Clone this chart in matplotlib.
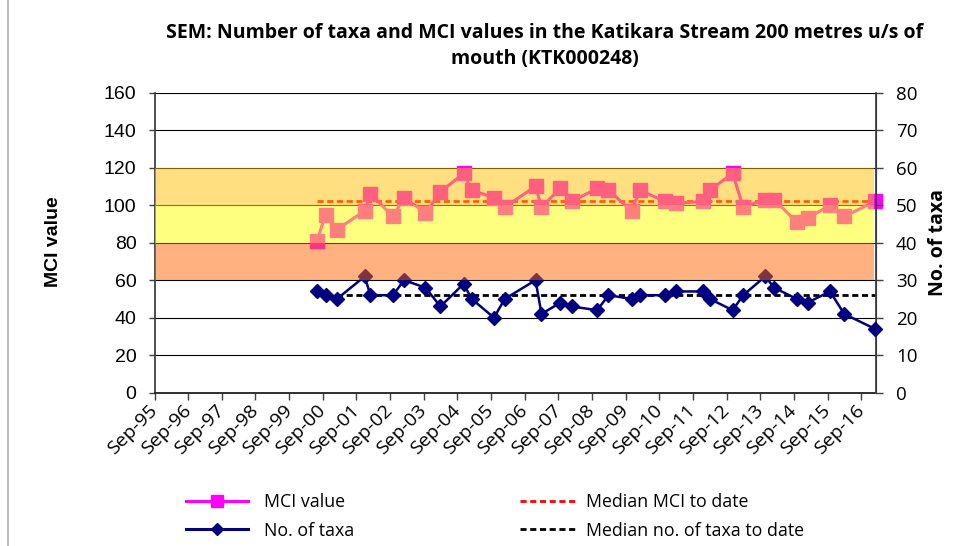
import matplotlib
matplotlib.use('Agg')
import matplotlib.pyplot as plt
import matplotlib.dates as mdates
from matplotlib.patches import Rectangle
from matplotlib.lines import Line2D
from matplotlib.transforms import blended_transform_factory
import datetime as dt

# ---------------- data ----------------
sample_dates = [
    '2000-06-29', '2000-10-01', '2001-02-01', '2001-11-29', '2002-01-30',
    '2002-10-02', '2003-01-30', '2003-09-20', '2004-02-29', '2004-11-06',
    '2005-02-03', '2005-10-02', '2006-01-27', '2006-12-27', '2007-03-02',
    '2007-09-22', '2008-01-25', '2008-10-26', '2009-02-26', '2009-11-03',
    '2010-02-02', '2010-10-31', '2011-02-26', '2011-12-21', '2012-03-03',
    '2012-11-04', '2013-02-27', '2013-10-24', '2014-01-30', '2014-09-30',
    '2015-01-26', '2015-09-27', '2016-02-29', '2017-01-28',
]
mci_values = [
    81, 95, 87, 97, 106, 94, 104, 96, 107, 117,
    108, 104, 99, 110, 99, 109, 102, 109, 108, 97,
    108, 102, 101, 102, 108, 117, 99, 103, 103, 91,
    93, 100, 94, 102,
]
taxa_counts = [
    27, 26, 25, 31, 26, 26, 30, 28, 23, 29,
    25, 20, 25, 30, 21, 24, 23, 22, 26, 25,
    26, 26, 27, 27, 25, 22, 26, 31, 28, 25,
    24, 27, 21, 17,
]
median_mci = 102.4
median_taxa = 26
tick_labels = ['Sep-95', 'Sep-96', 'Sep-97', 'Sep-98', 'Sep-99', 'Sep-00',
               'Sep-01', 'Sep-02', 'Sep-03', 'Sep-04', 'Sep-05', 'Sep-06',
               'Sep-07', 'Sep-08', 'Sep-09', 'Sep-10', 'Sep-11', 'Sep-12',
               'Sep-13', 'Sep-14', 'Sep-15', 'Sep-16']
band_limits = [(60, 80), (80, 100), (100, 120)]
band_colors = ['#FF6600', '#FFFF00', '#FFC000']

title = ('SEM: Number of taxa and MCI values in the Katikara Stream 200 metres u/s of\n'
         'mouth (KTK000248)')

# ---------------- figure ----------------
dates = [dt.datetime.strptime(d, '%Y-%m-%d') for d in sample_dates]
tick_dates = [dt.datetime.strptime(t, '%b-%y') for t in tick_labels]
xmin = dt.datetime(1995, 9, 1)
xmax = dt.datetime(2017, 2, 4)

W, H = 971, 546
fig = plt.figure(figsize=(W / 100, H / 100), dpi=100)
L, R, T, B = 154.5, 875.7, 92.7, 392.7
ax = fig.add_axes([L / W, 1 - B / H, (R - L) / W, (B - T) / H])
ax2 = ax.twinx()

# gridlines
ax.set_yticks(range(0, 161, 20))
ax.yaxis.grid(True, color='black', lw=0.8)
ax.set_axisbelow(True)

dash = (0, (2.2, 1.3))

# MCI series
ax.plot(dates, mci_values, color='#FF00FF', lw=2.2, marker='s', ms=9.5,
        mec='#FF00FF', clip_on=False, zorder=3)
ax.plot([dates[0], xmax], [median_mci, median_mci], color='red', lw=2,
        ls=dash, zorder=2)

# taxa series
ax2.plot(dates, taxa_counts, color='#000080', lw=1.8, marker='D', ms=6.8,
         clip_on=False, zorder=3)
ax2.plot([dates[0], xmax], [median_taxa, median_taxa], color='black', lw=2,
         ls=dash, zorder=2)

# translucent bands over everything (in MCI units)
trans = blended_transform_factory(ax2.transAxes, ax.transData)
for (lo, hi), c in zip(band_limits, band_colors):
    ax2.add_patch(Rectangle((0, lo), 0.997, hi - lo, transform=trans,
                            facecolor=c, edgecolor='none', alpha=0.5, zorder=6))

ax.set_xlim(xmin, xmax)
ax.set_ylim(0, 160)
ax2.set_ylim(0, 80)
ax2.set_yticks(range(0, 81, 10))

ax.set_xticks(tick_dates)
ax.xaxis.set_major_formatter(mdates.DateFormatter('%b-%y'))
for lab in ax.get_xticklabels():
    lab.set_rotation(45)
    lab.set_ha('right')
    lab.set_va('center')
    lab.set_rotation_mode('anchor')
    lab.set_fontfamily('Open Sans')
    lab.set_fontsize(14)

for s in ['top']:
    ax.spines[s].set_visible(False)
    ax2.spines[s].set_visible(False)
ax2.spines['left'].set_visible(False)
ax2.spines['bottom'].set_visible(False)
ax.spines['left'].set_color('#404040')
ax.spines['left'].set_linewidth(1.3)
ax2.spines['right'].set_color('#404040')
ax2.spines['right'].set_linewidth(1.3)
ax.spines['bottom'].set_color('#202020')
ax.spines['bottom'].set_linewidth(1.3)

ax.tick_params(axis='y', direction='out', length=4.5, width=1, color='#404040',
               labelsize=14, pad=8.5)
ax.tick_params(axis='x', direction='out', length=5, width=1, color='#404040', pad=6)
ax2.tick_params(axis='y', direction='out', length=5, width=1, color='#404040',
                labelsize=13.5, pad=9.5)
for lab in ax.get_yticklabels():
    lab.set_fontfamily('Liberation Sans')
for lab in ax2.get_yticklabels():
    lab.set_fontfamily('Open Sans')

fig.text(53 / W, 1 - 242 / H, 'MCI value', rotation=90, ha='center', va='center',
         fontsize=14, fontweight='bold', family='Liberation Sans')
fig.text(937.5 / W, 1 - 243 / H, 'No. of taxa', rotation=90, ha='center', va='center',
         fontsize=14, fontweight='bold', family='Open Sans')

fig.text(0.561, 0.958, title, ha='center', va='top', fontsize=14,
         fontweight='bold', family='Open Sans', linespacing=1.38)

# legend (two columns placed separately)
handles1 = [
    Line2D([], [], color='#FF00FF', lw=2.2, marker='s', ms=9),
    Line2D([], [], color='#000080', lw=2.2, marker='D', ms=6.5),
]
handles2 = [
    Line2D([], [], color='red', lw=2, ls=dash),
    Line2D([], [], color='black', lw=2, ls=dash),
]
common = dict(loc='upper left', frameon=False, labelspacing=0.6,
              prop={'family': 'Open Sans', 'size': 12.8},
              borderaxespad=0, borderpad=0)
leg1 = fig.legend(handles1, ['MCI value', 'No. of taxa'], handlelength=3.5,
                  handletextpad=0.9, bbox_to_anchor=(186 / W, 1 - 493 / H), **common)
leg2 = fig.legend(handles2, ['Median MCI to date', 'Median no. of taxa to date'],
                  handlelength=3.2, handletextpad=0.5,
                  bbox_to_anchor=(520 / W, 1 - 493 / H), **common)

# outer frame line on the left (as in reference)
fig.add_artist(Line2D([8 / W, 8 / W], [0, 1], color='#BBBBBB', lw=1.5))

fig.savefig('out.png', dpi=100)
